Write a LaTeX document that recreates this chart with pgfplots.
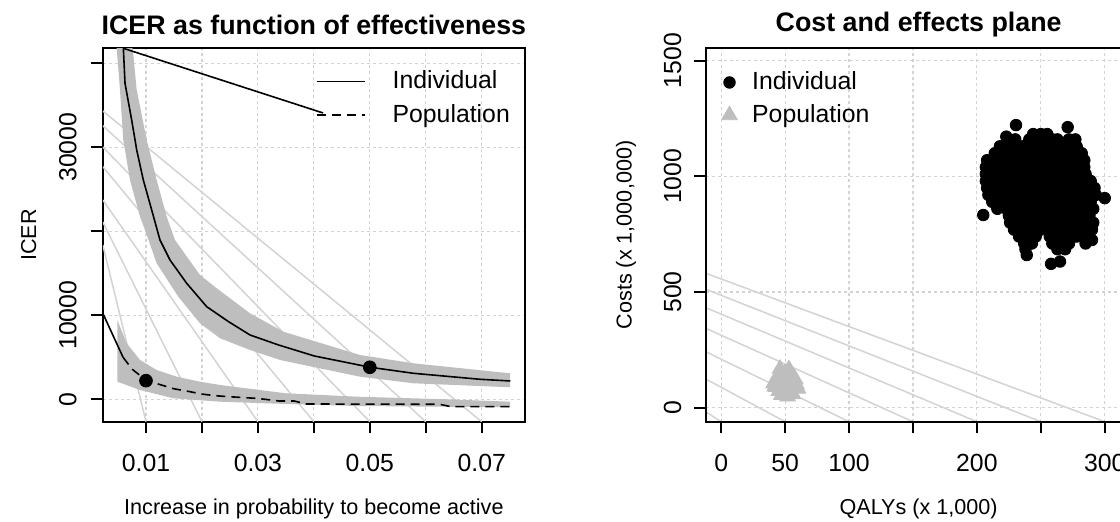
\documentclass[border=0pt]{standalone}
\usepackage{fontspec}
\setmainfont{Liberation Sans}
\usepackage{pgfplots}
\pgfplotsset{compat=1.18}
\definecolor{rgray}{HTML}{BEBEBE}
\definecolor{lgray}{HTML}{D3D3D3}
\newcommand{\basefs}{\fontsize{12.4}{14.8}\selectfont}

\pgfplotsset{
  rpanel/.style={
    scale only axis, anchor=south west, height=186.7pt,
    axis line style={line width=1pt},
    every tick/.style={black, line width=1pt},
    tick align=outside, major tick length=5.85pt,
    xtick pos=bottom, ytick pos=left,
    scaled ticks=false,
    grid=major,
    grid style={lgray, line width=0.6pt, dash pattern=on 1.5pt off 1.5pt},
    tick label style={font=\basefs},
    xticklabel style={anchor=center, yshift=-14.95pt},
    title style={font=\bfseries\fontsize{13.4}{16}\selectfont, at={(0.5,1)}, anchor=center, yshift=5.65pt},
    label style={font=\fontsize{10.8}{13}\selectfont},
    xlabel style={at={(axis description cs:0.5,-0.2345)}, anchor=center},
    legend style={draw=none, fill=none, inner sep=0pt, outer sep=0pt,
      anchor=north west, font=\basefs, nodes={inner sep=0pt}},
    legend cell align=left,
  },
}

\begin{document}
\begin{tikzpicture}
\useasboundingbox (0,0) rectangle (560pt,261pt);
\clip (0,0) rectangle (560pt,261pt);

% ---------------- left panel
\begin{axis}[rpanel,
    at={(51.4pt,50.15pt)}, width=211.1pt,
    xmin=0.00228, xmax=0.07774, ymin=-2667, ymax=41786,
    xtick={0.01,0.02,0.03,0.04,0.05,0.06,0.07},
    xticklabels={0.01,,0.03,,0.05,,0.07},
    ytick={0,10000,20000,30000,40000},
    yticklabels={0,10000,,30000,},
    yticklabel style={xshift=-11.65pt, rotate=90, anchor=center},
    title={ICER as function of effectiveness},
    xlabel={Increase in probability to become active},
    ylabel={ICER},
    ylabel style={at={(axis description cs:-0.1757,0.5)}, anchor=center},
    legend image code/.code={\draw[#1] (0pt,0pt) -- (24pt,0pt);},
    legend style={at={(0.505,0.9392)}, column sep=13.5pt, row sep=6.2pt},
  ]
  % threshold lines
  \addplot[forget plot, lgray, line width=0.75pt] coordinates {(0.00228,34322) (0.07,-2667)};
  \addplot[forget plot, lgray, line width=0.75pt] coordinates {(0.00228,32573) (0.06,-2667)};
  \addplot[forget plot, lgray, line width=0.75pt] coordinates {(0.00228,30036) (0.05,-2667)};
  \addplot[forget plot, lgray, line width=0.75pt] coordinates {(0.00228,27691) (0.04,-2667)};
  \addplot[forget plot, lgray, line width=0.75pt] coordinates {(0.00228,23726) (0.03,-2667)};
  \addplot[forget plot, lgray, line width=0.75pt] coordinates {(0.00228,21107) (0.02,-2667)};
  \addplot[forget plot, lgray, line width=0.75pt] coordinates {(0.00228,18369) (0.01,-2667)};
  % uncertainty bands
  \addplot[forget plot, fill=rgray, draw=none] coordinates {
    (0.00732,46350) (0.00762,41786) (0.00834,36822) (0.01013,30869) (0.01191,26107)
    (0.0137,21738) (0.01518,18964) (0.01965,14798) (0.02264,13214) (0.02859,10238)
    (0.03454,8048) (0.04824,5274) (0.05777,4286) (0.07506,3095)
    (0.07506,1429) (0.05778,1905) (0.04825,2690) (0.03395,4679) (0.02859,5869)
    (0.02323,7262) (0.01965,9048) (0.01577,12214) (0.01191,16190) (0.00982,20155)
    (0.00893,21738) (0.00714,26107) (0.00594,30869) (0.00535,36822) (0.00476,41786)
    (0.0046,46350)};
  \addplot[forget plot, fill=rgray, draw=none] coordinates {
    (0.00487,9440) (0.00655,6667) (0.00893,4679) (0.0119,3488) (0.01549,2690)
    (0.01965,2095) (0.02323,1702) (0.035,714) (0.04771,310) (0.06369,0) (0.07506,-286)
    (0.07506,-952) (0.04771,-800) (0.035,-560) (0.02323,-286) (0.01488,119)
    (0.00893,1107) (0.00487,2095)};
  % central estimates
  \addplot[black, line width=0.8pt] coordinates {
    (0.0058,44000) (0.00625,37619) (0.00744,33250) (0.00834,29679) (0.00952,26107)
    (0.01102,22536) (0.0125,18964) (0.01429,16583) (0.01727,13810) (0.02085,11024)
    (0.02476,9238) (0.02859,7655) (0.0337,6464) (0.04008,5155) (0.0501,3810)
    (0.05778,3095) (0.0697,2381) (0.0751,2179)};
  \addlegendentry{Individual}
  \addplot[black, line width=0.8pt, dash pattern=on 4.5pt off 3pt] coordinates {
    (0.0059,5000) (0.0075,3600) (0.0101,2214) (0.0125,1750) (0.015,1250)
    (0.0175,950) (0.02,620) (0.0225,420) (0.025,300) (0.03,100) (0.0337,-200)
    (0.0365,-200) (0.0385,-560) (0.0625,-595) (0.0645,-880) (0.075,-880)};
  \addlegendentry{Population}
  % stray segments
  \addplot[forget plot, black, line width=0.8pt] coordinates {(0.00594,41786) (0.04164,34085)};
  \addplot[forget plot, black, line width=0.8pt] coordinates {(0.00228,10238) (0.0059,5000)};
  % highlighted points
  \addplot[forget plot, only marks, mark=*, mark size=3.2pt, black] coordinates {(0.01,2214) (0.05,3810)};
\end{axis}

% ---------------- right panel
\begin{axis}[rpanel,
    at={(352.85pt,50.15pt)}, width=212.95pt,
    axis on top,
    xmin=-12.1, xmax=321, ymin=-60.6, ymax=1554,
    xtick={0,50,100,150,200,250,300},
    xticklabels={0,50,100,,200,,300},
    ytick={0,500,1000,1500},
    yticklabels={0,500,1000,1500},
    yticklabel style={xshift=-10.75pt, rotate=90, anchor=center},
    title={Cost and effects plane},
    xlabel={QALYs (x 1,000)},
    ylabel={Costs (x 1,000,000)},
    ylabel style={at={(axis description cs:-0.187,0.5)}, anchor=center},
    legend image code/.code={\draw[mark repeat=1,#1] plot coordinates {(4.5pt,0pt)};},
    legend style={at={(0.0376,0.9365)}, column sep=7.45pt, row sep=5.85pt},
  ]
  \addplot[forget plot, lgray, line width=0.75pt] coordinates {(-12.1,581.3) (300,-60.6)};
  \addplot[forget plot, lgray, line width=0.75pt] coordinates {(-12.1,512.1) (250,-60.6)};
  \addplot[forget plot, lgray, line width=0.75pt] coordinates {(-12.1,432.5) (200,-60.6)};
  \addplot[forget plot, lgray, line width=0.75pt] coordinates {(-12.1,343.4) (150,-60.6)};
  \addplot[forget plot, lgray, line width=0.75pt] coordinates {(-12.1,242.2) (100,-60.6)};
  \addplot[forget plot, lgray, line width=0.75pt] coordinates {(-12.1,124.1) (50,-60.6)};
  \addplot[forget plot, lgray, line width=0.75pt] coordinates {(-12.1,-17.3) (0,-60.6)};
  % individual
  \addplot[only marks, mark=*, mark size=2.9pt, black] coordinates {
    (244,1183) (250,1183) (255,1183)
    (224,1160) (230,1160) (241,1160) (247,1160) (253,1160) (259,1160) (263,1160) (272,1160) (277,1160)
    (218,1130) (224,1130) (230,1130) (236,1130) (242,1130) (248,1130) (254,1130) (260,1130) (266,1130) (272,1130) (278,1130)
    (214,1100) (220,1100) (227,1100) (234,1100) (241,1100) (248,1100) (255,1100) (262,1100) (269,1100) (276,1100) (282,1100)
    (208,1070) (215,1070) (222,1070) (229,1070) (236,1070) (243,1070) (250,1070) (257,1070) (264,1070) (271,1070) (278,1070) (284,1070)
    (207,1040) (214,1040) (221,1040) (228,1040) (235,1040) (242,1040) (249,1040) (256,1040) (263,1040) (270,1040) (277,1040) (284,1040)
    (207,1010) (214,1010) (221,1010) (228,1010) (235,1010) (242,1010) (249,1010) (256,1010) (263,1010) (270,1010) (277,1010) (285,1010)
    (207,980) (214,980) (221,980) (228,980) (235,980) (242,980) (249,980) (256,980) (263,980) (270,980) (277,980) (284,980) (289,980)
    (208,950) (215,950) (222,950) (229,950) (236,950) (243,950) (250,950) (257,950) (264,950) (271,950) (278,950) (285,950) (292,950)
    (209,920) (216,920) (223,920) (230,920) (237,920) (244,920) (251,920) (258,920) (265,920) (272,920) (279,920) (286,920) (293,920)
    (212,890) (219,890) (226,890) (233,890) (240,890) (247,890) (254,890) (261,890) (268,890) (275,890) (282,890) (289,890)
    (216,860) (223,860) (230,860) (237,860) (244,860) (251,860) (258,860) (265,860) (272,860) (279,860) (286,860) (291,860)
    (225,830) (232,830) (239,830) (246,830) (253,830) (260,830) (267,830) (274,830) (281,830) (288,830)
    (226,800) (231,800) (237,800) (244,800) (251,800) (258,800) (265,800) (272,800) (279,800) (286,800) (291,800)
    (229,770) (236,770) (243,770) (250,770) (257,770) (264,770) (271,770) (278,770) (285,770) (290,770)
    (233,740) (240,740) (246,740) (257,740) (264,740) (271,740) (278,740) (285,740)
    (237,710) (243,710) (259,710) (266,710) (272,710) (285,710)
    (238,685) (263,685) (269,685) (239,660)
    (230.6,1222) (271,1213) (223,1172) (300,906) (205,833) (258,622) (265,632) (290,725)};
  \addlegendentry{Individual}
  % population
  \addplot[only marks, mark=triangle*, mark size=4.5pt, rgray] coordinates {
    (46,168) (53,166) (50,150) (45,145) (55,146) (43,125) (48,128) (53,130) (58,122)
    (41,105) (45,108) (50,110) (55,106) (59,100) (43,90) (47,90) (52,92) (57,86)
    (60,82) (45,72) (50,75) (55,70) (47,55) (52,48) (56,58) (49,62) (54,65) (42,92) (59,92)};
  \addlegendentry{Population}
\end{axis}
\end{tikzpicture}
\end{document}
